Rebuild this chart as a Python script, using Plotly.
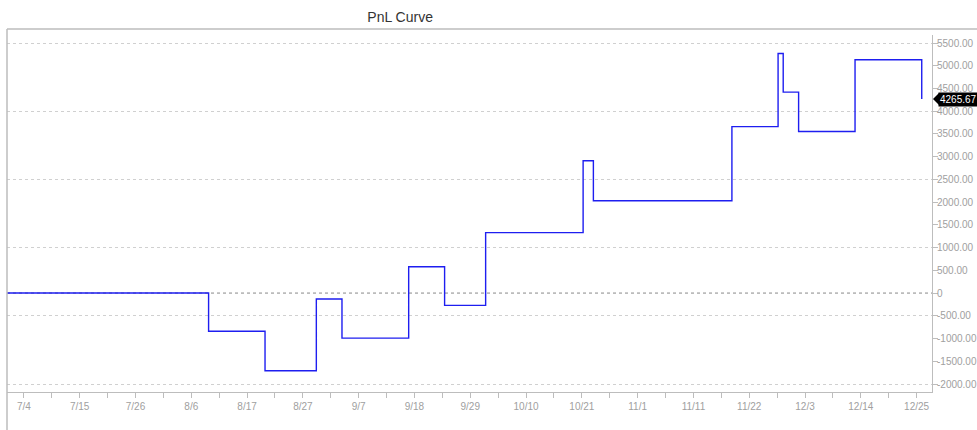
import plotly.graph_objects as go
from datetime import datetime

# ---- data ----
dates = ["2024-06-30", "2024-08-09", "2024-08-20", "2024-08-30", "2024-09-04",
         "2024-09-17", "2024-09-24", "2024-10-02", "2024-10-21", "2024-10-23",
         "2024-11-19", "2024-11-28", "2024-11-29", "2024-12-02", "2024-12-13",
         "2024-12-26"]
pnl = [0, -840, -1710, -130, -990, 580, -270, 1330, 2910, 2030,
       3660, 5270, 4420, 3555, 5130, 4265.67]

x_tick_labels = ["7/4", "7/15", "7/26", "8/6", "8/17", "8/27", "9/7", "9/18", "9/29",
                 "10/10", "10/21", "11/1", "11/11", "11/22", "12/3", "12/14", "12/25"]
y_tick_values = [-2000, -1500, -1000, -500, 0, 500, 1000, 1500, 2000, 2500,
                 3000, 3500, 4000, 4500, 5000, 5500]
last_value = pnl[-1]

# ---- layout helpers ----
start = datetime(2024, 7, 4)
end = datetime(2024, 12, 25)
n = len(x_tick_labels) - 1
step = (end - start) / n
x_tickvals = [start + step * k for k in range(n + 1)]
x_minor = [start + step * (k + 0.5) for k in range(-1, n + 1)]
y_ticktext = ["0" if v == 0 else f"{v:.2f}" for v in y_tick_values]

grey_txt = "#a0a0a0"
frame = "#bdbdbd"
font_family = "Liberation Sans, Arial, sans-serif"

W, H = 977, 430
ML, MR, MT, MB = 7, 45, 35, 38
PW, PH = W - ML - MR, H - MT - MB

fig = go.Figure()
fig.add_trace(go.Scatter(
    x=dates, y=pnl, mode="lines", line=dict(color="#1e1ef0", width=1.4, shape="hv"),
    hoverinfo="x+y", showlegend=False,
))
# invisible trace on grid axis
fig.add_trace(go.Scatter(x=[dates[0]], y=[0], yaxis="y2", mode="markers",
                         marker=dict(opacity=0), showlegend=False, hoverinfo="skip"))

yrange = [-2176, 5676]
fig.update_layout(
    width=W, height=H,
    margin=dict(l=ML, r=MR, t=MT, b=MB, pad=0, autoexpand=False),
    paper_bgcolor="white", plot_bgcolor="white",
    font=dict(family=font_family, size=10, color=grey_txt),
    title=dict(text="PnL Curve", x=0.425, xref="paper", xanchor="center",
               y=1 - 17 / H, yanchor="middle", yref="container",
               font=dict(size=14, color="#333333", family=font_family)),
    xaxis=dict(
        type="date", range=["2024-06-30 17:00", "2024-12-28"], automargin=False,
        tickmode="array", tickvals=x_tickvals, ticktext=x_tick_labels,
        ticks="outside", ticklen=5, tickcolor=frame, showgrid=False, zeroline=False,
        showline=True, linecolor=frame, linewidth=1,
        minor=dict(tickmode="array", tickvals=x_minor, ticks="outside", ticklen=5,
                   tickcolor=frame, showgrid=False),
        tickfont=dict(size=10, color=grey_txt),
    ),
    yaxis=dict(
        range=yrange, side="right", tickmode="array", tickvals=y_tick_values,
        ticktext=y_ticktext, ticks="outside", ticklen=5, tickcolor=frame,
        showgrid=False, zeroline=False, showline=True, linecolor=frame, linewidth=1,
        tickfont=dict(size=10, color=grey_txt), automargin=False,
        ticklabelstandoff=-3,
    ),
    yaxis2=dict(
        range=yrange, overlaying="y", side="left", tick0=-2000, dtick=1500,
        showgrid=True, gridcolor="#d0d0d0", griddash="dot", gridwidth=1,
        showticklabels=False, zeroline=False, showline=False, ticks="",
        automargin=False,
    ),
    hovermode="x",
)

# zero line (dashed)
fig.add_hline(y=0, line=dict(color="#888888", width=1, dash="dot"), layer="below")

# outer frame lines (top and left)
top_y = 1 + 6 / PH
left_x = 0
fig.add_shape(type="line", xref="paper", yref="paper", x0=left_x, x1=1 + MR / PW,
              y0=top_y, y1=top_y, line=dict(color=frame, width=1.5))
fig.add_shape(type="line", xref="paper", yref="paper", x0=left_x, x1=left_x,
              y0=top_y, y1=-MB / PH, line=dict(color=frame, width=1.5))

# last value marker (pointer + label)
fig.add_shape(type="path", xref="paper", yref="y", xsizemode="pixel", ysizemode="pixel",
              xanchor=1, yanchor=last_value, path="M 1,0 L 7,6 L 7,-6 Z",
              fillcolor="black", line=dict(width=0))
fig.add_annotation(x=1, xref="paper", y=last_value, yref="y", xanchor="left",
                   yanchor="middle", xshift=6, text=f"{last_value:.2f}", showarrow=False,
                   bgcolor="black", font=dict(color="white", size=10, family=font_family),
                   borderpad=1)

fig.write_html("out.html", config={"displayModeBar": False},
               post_script="document.body.style.margin='0';document.body.style.overflow='hidden';")
